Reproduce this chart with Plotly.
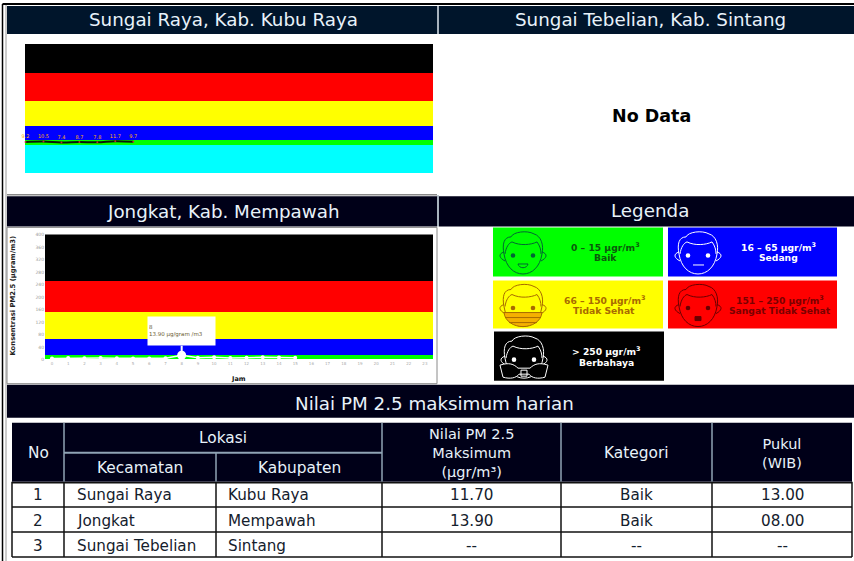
import plotly.graph_objects as go

W, H = 854, 561
FONT = "DejaVu Sans"
# the drawn paper area of this figure, measured from the rendered page
PAPER_TOP, PAPER_H = 3, 555

# ---- data ----
band_colors = ["#00ffff", "#00ff00", "#0000ff", "#ffff00", "#ff0000", "#000000"]
bands_raya = [-100, 0, 15, 65, 150, 250, 350]
bands_mempawah = [0, 15, 65, 150, 250, 400]
hours_raya = [0, 1, 2, 3, 4, 5, 6]
pm_raya = [9.2, 10.5, 7.4, 8.7, 7.8, 11.7, 9.7]
hours_mempawah = list(range(16))
pm_mempawah = [4, 5, 4.5, 5, 4.5, 4, 4, 4.5, 13.9, 6, 8, 5, 6, 8, 7, 6]
hour_ticks = list(range(24))
y_ticks = [0, 40, 80, 120, 160, 200, 240, 280, 320, 360, 400]

table_cols = [12, 64, 216, 382, 561, 712, 852]
table_rows_y = [483, 507, 532, 557]
table_text_y = [495, 521, 546]
rows = [
    ["1", "Sungai Raya", "Kubu Raya", "11.70", "Baik", "13.00"],
    ["2", "Jongkat", "Mempawah", "13.90", "Baik", "08.00"],
    ["3", "Sungai Tebelian", "Sintang", "--", "--", "--"],
]
legend_items = [
    (493, 228, 663, 277, "#00ff00", "#063", "0 – 15 µgr/m<sup>3</sup>", "Baik", "#0b5a0b", "smile", 605),
    (668, 228, 837, 277, "#0000ff", "#ffffff", "16 – 65 µgr/m<sup>3</sup>", "Sedang", "#ffffff", "flat", 778),
    (493, 281, 663, 329, "#ffff00", "#a86a00", "66 – 150 µgr/m<sup>3</sup>", "Tidak Sehat", "#a86a00", "mask", 604),
    (668, 281, 837, 329, "#ff0000", "#6a0000", "151 – 250 µgr/m<sup>3</sup>", "Sangat Tidak Sehat", "#7a0000", "sad", 780),
    (494, 332, 664, 381, "#000000", "#ffffff", "&gt; 250 µgr/m<sup>3</sup>", "Berbahaya", "#ffffff", "resp", 606),
]


def px(x):
    return x / W


def py(y):
    return 1 - (y - PAPER_TOP) / PAPER_H


shapes, annos = [], []


def rect(x0, y0, x1, y1, fill, line=None, lw=1):
    shapes.append(dict(type="rect", xref="paper", yref="paper", x0=px(x0), x1=px(x1), y0=py(y0), y1=py(y1),
                       fillcolor=fill, line=dict(color=line or fill, width=lw if line else 0), layer="below"))


def line(x0, y0, x1, y1, color, lw=1):
    shapes.append(dict(type="line", xref="paper", yref="paper", x0=px(x0), x1=px(x1), y0=py(y0), y1=py(y1),
                       line=dict(color=color, width=lw), layer="below"))


def text(x, y, s, size, color, bold=False, anchor="center"):
    annos.append(dict(xref="paper", yref="paper", x=px(x), y=py(y), text=f"<b>{s}</b>" if bold else s,
                      showarrow=False, xanchor=anchor, yanchor="middle", align="center",
                      font=dict(family=FONT, size=size, color=color)))


def path(cx, cy, cmds, color, fill=None, lw=1):
    out = []
    for c in cmds:
        if isinstance(c, str):
            out.append(c)
        else:
            out.append(f"{px(cx + c[0]):.5f},{py(cy + c[1]):.5f}")
    shapes.append(dict(type="path", xref="paper", yref="paper", path=" ".join(out),
                       line=dict(color=color, width=lw), fillcolor=fill or "rgba(0,0,0,0)", layer="above"))


def dot(cx, cy, r, color):
    shapes.append(dict(type="circle", xref="paper", yref="paper", x0=px(cx - r), x1=px(cx + r),
                       y0=py(cy - r), y1=py(cy + r), fillcolor=color, line=dict(width=0), layer="above"))


def face(cx, cy, c, kind):
    path(cx, cy, ["M", (-19, 1), "C", (-21, -9), (-19, -16), (-12, -16), "C", (-10, -21), (4, -23), (11, -19),
                  "C", (18, -17), (21, -8), (19, 1)], c)
    path(cx, cy, ["M", (-19, 1), "C", (-17, 14), (-9, 21), (0, 21), "C", (9, 21), (17, 14), (19, 1)], c)
    path(cx, cy, ["M", (-18, 1), "C", (-17, -6), (-14, -10), (-11, -11), "C", (-3, -7), (8, -8), (14, -11),
                  "C", (17, -7), (18, -3), (18, 1)], c)
    path(cx, cy, ["M", (-19, -1), "C", (-25, 1), (-24, 5), (-18, 8)], c)
    path(cx, cy, ["M", (19, -1), "C", (25, 1), (24, 5), (18, 8)], c)
    dot(cx - 10, cy + 2.5, 2.3, c)
    dot(cx + 10, cy + 2.5, 2.3, c)
    if kind == "smile":
        path(cx, cy, ["M", (-5, 11), "L", (5, 11), "C", (4, 16), (-4, 16), (-5, 11), "Z"], c)
    elif kind == "flat":
        path(cx, cy, ["M", (-5, 12), "L", (6, 12)], c)
    elif kind == "mask":
        path(cx, cy, ["M", (-19, 7), "L", (19, 7), "C", (18, 16), (9, 21), (0, 21), "C", (-9, 21), (-18, 16), (-19, 7), "Z"], c, "#f5b000")
        path(cx, cy, ["M", (-18, 12), "L", (18, 12)], c)
        path(cx, cy, ["M", (-14, 17), "L", (14, 17)], c)
    elif kind == "sad":
        path(cx, cy, ["M", (-3, 11), "L", (3, 11), "L", (3, 15), "L", (-3, 15), "Z"], c, c)
    elif kind == "resp":
        path(cx, cy, ["M", (-24, 8), "C", (-15, 5), (-10, 7), (-6, 11), "L", (6, 11), "C", (10, 7), (15, 5), (24, 8),
                      "L", (21, 20), "C", (14, 22), (8, 21), (5, 17), "L", (-5, 17), "C", (-8, 21), (-14, 22), (-21, 20), "Z"], c, "#000000")
        path(cx, cy, ["M", (-3, 13), "L", (3, 13), "L", (3, 19), "L", (-3, 19), "Z"], c)


# ---- frame ----
line(2.5, 5, 2.5, 561, "#000000", 1.5)
line(2.5, 5, 854, 5, "#000000", 2)
line(6, 6, 6, 561, "#9a9a9a", 1)

HEAD1, HEAD2 = "#00152b", "#000018"
HTXT = "#e8f2fa"
rect(7, 7, 437, 35, HEAD1)
rect(439, 7, 854, 35, HEAD1)
line(438, 7, 438, 35, "#8a9aa8", 1.5)
line(7, 195.5, 437, 195.5, "#888888", 1.5)
rect(7, 197, 437, 227, HEAD2)
rect(439, 197, 854, 227, HEAD2)
line(438, 196, 438, 227, "#8a9aa8", 1.5)
rect(7, 228, 437, 384, "#ffffff", "#8a8a8a", 1)
rect(7, 385, 854, 418, HEAD2)

HS = 18.3
text(223, 20.5, "Sungai Raya, Kab. Kubu Raya", HS, HTXT)
text(650, 20.5, "Sungai Tebelian, Kab. Sintang", HS, HTXT)
text(223, 212.5, "Jongkat, Kab. Mempawah", HS, HTXT)
text(650, 211.5, "Legenda", HS, HTXT)
text(434, 403.5, "Nilai PM 2.5 maksimum harian", HS, HTXT)
text(651, 117, "No Data", 17.5, "#000000", bold=True)

# ---- legend ----
for x0, y0, x1, y1, fill, ic, t1, t2, tc, kind, tx in legend_items:
    rect(x0, y0, x1, y1, fill)
    cy = (y0 + y1) / 2
    face(x0 + 30, cy + 1, ic, kind)
    text(tx, cy - 5, t1, 9.2, tc, bold=True)
    text(tx, cy + 6, t2, 9.2, tc, bold=True)

# ---- table ----
GR = "#8fa3b5"
rect(table_cols[0], 423, table_cols[-1], 482, HEAD2)
for x in table_cols[1:-1]:
    y0 = 453 if x == table_cols[2] else 423
    line(x, y0, x, 482, GR, 1.5)
line(table_cols[1], 453, table_cols[3], 453, GR, 2)
TH = 15.4
text(38, 453, "No", TH, HTXT)
text(223, 438, "Lokasi", TH, HTXT)
text(140, 468, "Kecamatan", TH, HTXT)
text(299, 468, "Kabupaten", TH, HTXT)
text(472, 453, "Nilai PM 2.5<br>Maksimum<br>(µgr/m³)", 14.5, HTXT)
text(636, 453, "Kategori", TH, HTXT)
text(782, 454, "Pukul<br>(WIB)", 14.5, HTXT)
for y in table_rows_y:
    line(table_cols[0], y, table_cols[-1], y, "#111111", 1.5)
for x in table_cols:
    line(x, 482, x, table_rows_y[-1], "#111111", 1.5)
TC = "#14202c"
TS = 15.2
for cy, row in zip(table_text_y, rows):
    text(38, cy, row[0], TS, TC)
    text(75, cy, row[1], TS, TC, anchor="left")
    text(226, cy, row[2], TS, TC, anchor="left")
    text(472, cy, row[3], TS, TC)
    text(636, cy, row[4], TS, TC)
    text(782, cy, row[5], TS, TC)

# ---- charts ----
fig = go.Figure()


def add_bands(edges, colors, xr, ax):
    mid = (xr[0] + xr[1]) / 2
    for lo, hi, col in zip(edges[:-1], edges[1:], colors):
        fig.add_trace(go.Bar(x=[mid], y=[hi - lo], base=[lo], width=[xr[1] - xr[0]], marker=dict(color=col, line=dict(width=0)),
                             xaxis=ax[0], yaxis=ax[1], showlegend=False, hoverinfo="skip"))


xr1 = [-0.03, 22.7]
xr2 = [-0.43, 23.5]
add_bands(bands_raya, band_colors, xr1, ("x", "y"))
add_bands(bands_mempawah, band_colors[1:], xr2, ("x2", "y2"))

fig.add_trace(go.Scatter(x=hours_raya, y=pm_raya, mode="lines+markers+text", xaxis="x", yaxis="y",
                         text=[str(v) for v in pm_raya], textposition="top center",
                         textfont=dict(size=5, color="#ffb000", family=FONT),
                         line=dict(color="#0a180a", width=2, shape="spline"),
                         marker=dict(size=2, color="#c03030"), cliponaxis=False, showlegend=False))
fig.add_trace(go.Scatter(x=hours_mempawah, y=pm_mempawah, mode="lines+markers", xaxis="x2", yaxis="y2",
                         line=dict(color="#ffffff", width=1.5), marker=dict(size=4, color="#ffffff"),
                         cliponaxis=False, showlegend=False))
peak = pm_mempawah.index(max(pm_mempawah))
fig.add_trace(go.Scatter(x=[hours_mempawah[peak]], y=[pm_mempawah[peak]], mode="markers", xaxis="x2", yaxis="y2",
                         marker=dict(size=9, color="#ffffff"), cliponaxis=False, showlegend=False))

annos.append(dict(xref="x2", yref="y2", x=hours_mempawah[peak], y=pm_mempawah[peak], axref="pixel", ayref="pixel", ax=0, ay=-24,
                  text=f"{hours_mempawah[peak]}<br>{max(pm_mempawah):.2f} µg/gram /m3", showarrow=True, arrowcolor="#ffffff", arrowwidth=2,
                  arrowhead=0, standoff=3, bgcolor="#ffffff", width=65, height=26, align="left", valign="middle",
                  font=dict(size=5.5, color="#6a5a30", family=FONT)))
text(13, 296, "Konsentrasi PM2.5 (µgram/m3)", 6.8, "#222222", bold=True)
annos[-1]["textangle"] = -90
text(239, 379, "Jam", 6.5, "#111111", bold=True)

fig.update_layout(
    width=W, height=H, margin=dict(l=0, r=0, t=0, b=0), autosize=False,
    paper_bgcolor="#ffffff", plot_bgcolor="rgba(0,0,0,0)", showlegend=False, barmode="overlay", bargap=0,
    shapes=shapes, annotations=annos, font=dict(family=FONT),
    xaxis=dict(domain=[px(25), px(433)], range=xr1, visible=False, fixedrange=True),
    yaxis=dict(domain=[py(174), py(45)], range=[-100, 350], visible=False, fixedrange=True),
    xaxis2=dict(domain=[px(45), px(433)], range=xr2, tickmode="array", tickvals=hour_ticks, ticktext=[str(h) for h in hour_ticks],
                tickfont=dict(size=4, color="#aaaaaa"), showgrid=False, zeroline=False, showline=False, ticks="", anchor="y2", fixedrange=True),
    yaxis2=dict(domain=[py(360), py(235)], range=[0, 400], tickmode="array", tickvals=y_ticks, ticktext=[str(v) for v in y_ticks],
                tickfont=dict(size=4.5, color="#999999"), showgrid=False, zeroline=False, showline=False, ticks="", anchor="x2", fixedrange=True),
)

fig.write_html("out.html", config={"displayModeBar": False}, post_script="document.body.style.margin='0';")
